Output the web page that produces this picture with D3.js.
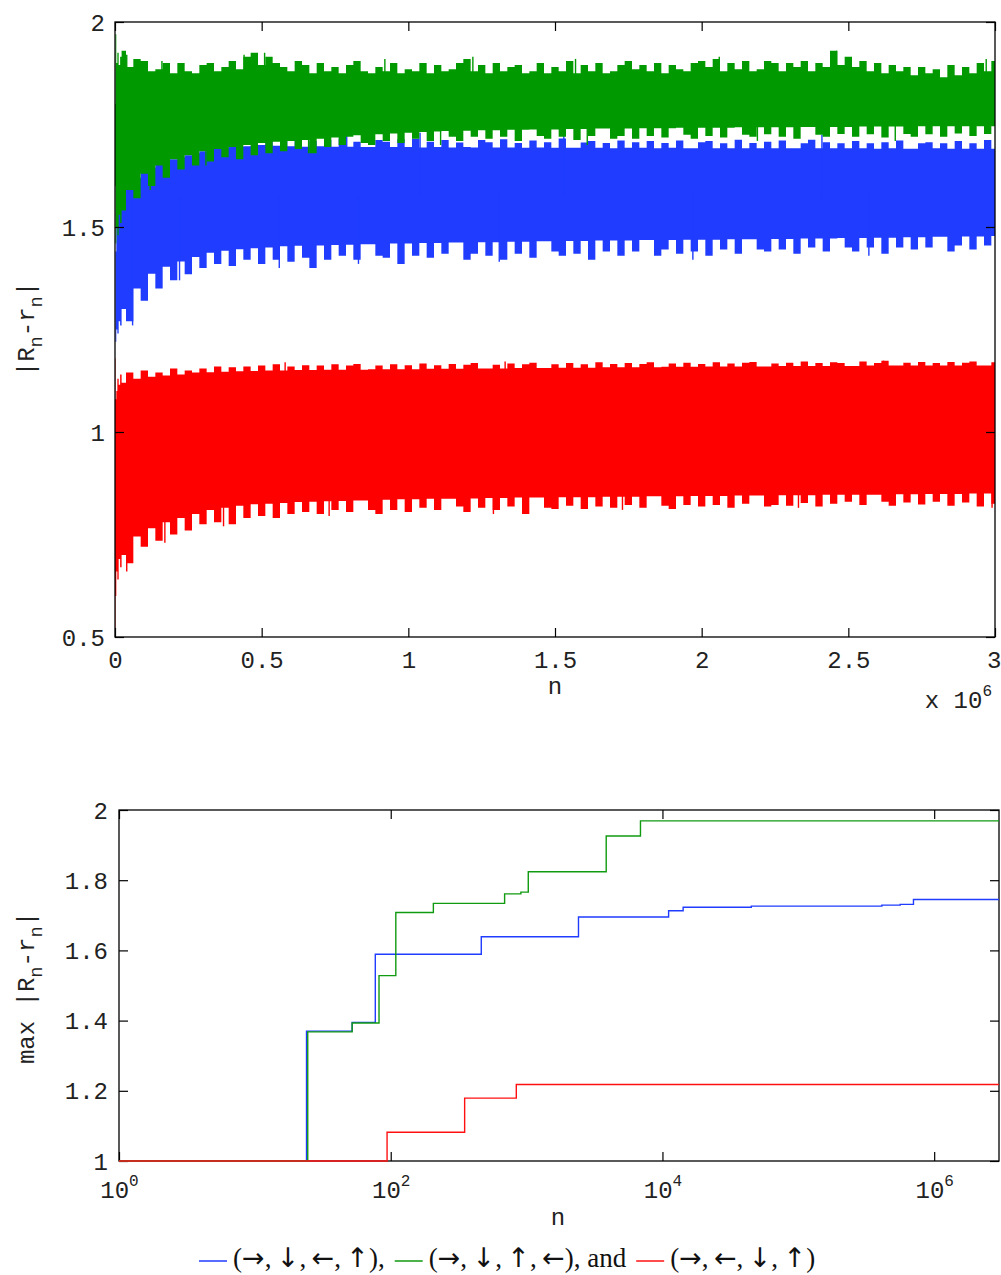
<!DOCTYPE html>
<html><head><meta charset="utf-8">
<script src="https://cdn.jsdelivr.net/npm/d3@7"></script>
<style>body{margin:0;background:#fff} svg{display:block}</style>
</head><body><svg id="c" width="1001" height="1275"></svg>
<script>
// ---------------- DATA (top chart: |R_n - r_n| vs n, n in units of 10^6) ----------------
// sample positions: a few early points, then every 0.025 x 10^6
const topX = [0,0.003,0.006,0.01,0.015,0.02].concat(d3.range(1,121).map(i=>i*0.025));
// upper / lower edges of each band (edge fuzz included)
const greenHi = [1.80,1.97,1.90,1.925,1.895,1.915,
 1.93,1.89,1.91,1.905,1.88,1.885,1.90,1.875,1.90,1.88,
 1.875,1.895,1.90,1.88,1.89,1.905,1.885,1.915,1.925,1.895,
 1.915,1.90,1.89,1.88,1.905,1.895,1.875,1.90,1.88,1.89,
 1.875,1.895,1.905,1.88,1.875,1.89,1.88,1.90,1.875,1.885,
 1.88,1.90,1.875,1.895,1.88,1.885,1.90,1.91,1.88,1.895,
 1.875,1.90,1.88,1.89,1.895,1.875,1.88,1.90,1.875,1.89,
 1.88,1.905,1.875,1.895,1.88,1.90,1.875,1.88,1.895,1.905,
 1.885,1.895,1.88,1.90,1.875,1.895,1.885,1.88,1.90,1.905,
 1.89,1.91,1.88,1.90,1.885,1.905,1.88,1.885,1.905,1.90,
 1.88,1.90,1.89,1.905,1.88,1.90,1.89,1.93,1.895,1.915,
 1.89,1.905,1.88,1.90,1.875,1.895,1.88,1.89,1.87,1.89,
 1.875,1.885,1.865,1.895,1.87,1.89,1.875,1.90,1.88,1.905];
const greenLo = [1.60,1.46,1.50,1.48,1.53,1.51,
 1.54,1.59,1.57,1.63,1.60,1.65,1.62,1.665,1.64,1.675,
 1.65,1.685,1.66,1.69,1.67,1.695,1.665,1.70,1.675,1.705,
 1.68,1.708,1.685,1.71,1.69,1.712,1.68,1.715,1.695,1.718,
 1.70,1.72,1.724,1.705,1.70,1.726,1.71,1.728,1.705,1.73,
 1.715,1.732,1.71,1.733,1.734,1.72,1.71,1.735,1.72,1.736,
 1.715,1.736,1.72,1.737,1.71,1.737,1.738,1.722,1.715,1.738,
 1.72,1.739,1.712,1.739,1.722,1.74,1.74,1.715,1.722,1.74,
 1.715,1.741,1.722,1.741,1.718,1.741,1.742,1.725,1.715,1.742,
 1.722,1.742,1.718,1.742,1.743,1.725,1.72,1.743,1.726,1.743,
 1.72,1.743,1.715,1.744,1.744,1.725,1.72,1.744,1.727,1.744,
 1.72,1.745,1.726,1.745,1.718,1.745,1.745,1.727,1.72,1.746,
 1.726,1.746,1.72,1.746,1.728,1.746,1.722,1.746,1.727,1.746];
const blueHi = [1.30,1.44,1.50,1.53,1.55,1.56,
 1.575,1.60,1.62,1.635,1.645,1.652,1.66,1.665,1.67,1.675,
 1.68,1.685,1.688,1.692,1.694,1.695,1.696,1.697,1.698,1.70,
 1.71,1.698,1.712,1.697,1.715,1.696,1.71,1.697,1.712,1.696,
 1.715,1.696,1.708,1.695,1.695,1.712,1.708,1.695,1.714,1.695,
 1.715,1.694,1.708,1.695,1.712,1.694,1.706,1.695,1.694,1.712,
 1.707,1.694,1.714,1.694,1.705,1.693,1.711,1.694,1.707,1.693,
 1.716,1.693,1.693,1.706,1.71,1.693,1.705,1.692,1.711,1.693,
 1.707,1.693,1.71,1.692,1.705,1.693,1.711,1.692,1.692,1.707,
 1.71,1.692,1.704,1.692,1.713,1.692,1.705,1.692,1.708,1.692,
 1.711,1.692,1.692,1.704,1.713,1.692,1.707,1.692,1.704,1.692,
 1.71,1.692,1.704,1.691,1.707,1.692,1.711,1.691,1.691,1.704,
 1.707,1.692,1.704,1.691,1.71,1.691,1.704,1.691,1.712,1.691];
const blueLo = [1.30,1.22,1.25,1.24,1.27,1.26,
 1.30,1.27,1.35,1.32,1.386,1.35,1.403,1.37,1.416,1.385,
 1.427,1.40,1.437,1.41,1.442,1.405,1.446,1.42,1.448,1.41,
 1.45,1.42,1.453,1.415,1.454,1.425,1.40,1.455,1.42,1.456,
 1.43,1.457,1.42,1.458,1.458,1.43,1.425,1.46,1.41,1.46,
 1.43,1.461,1.425,1.461,1.435,1.462,1.462,1.42,1.435,1.463,
 1.43,1.463,1.42,1.464,1.435,1.464,1.425,1.465,1.465,1.44,
 1.43,1.466,1.435,1.466,1.42,1.467,1.44,1.467,1.43,1.467,
 1.44,1.468,1.468,1.43,1.445,1.468,1.435,1.469,1.44,1.469,
 1.43,1.469,1.445,1.47,1.435,1.47,1.47,1.445,1.44,1.471,
 1.445,1.471,1.435,1.472,1.45,1.472,1.44,1.472,1.473,1.45,
 1.44,1.473,1.45,1.474,1.435,1.474,1.45,1.475,1.445,1.475,
 1.45,1.476,1.476,1.44,1.455,1.477,1.445,1.477,1.455,1.478];
const redHi = [1.18,1.08,1.10,1.13,1.115,1.14,
 1.12,1.145,1.13,1.15,1.135,1.145,1.138,1.155,1.14,1.15,
 1.145,1.155,1.146,1.16,1.147,1.158,1.148,1.16,1.149,1.162,
 1.15,1.165,1.15,1.16,1.151,1.163,1.151,1.162,1.152,1.165,
 1.152,1.162,1.166,1.152,1.153,1.162,1.153,1.165,1.153,1.163,
 1.153,1.167,1.154,1.163,1.154,1.166,1.154,1.164,1.168,1.155,
 1.155,1.164,1.155,1.167,1.156,1.165,1.169,1.156,1.156,1.165,
 1.157,1.168,1.157,1.165,1.157,1.17,1.158,1.166,1.158,1.168,
 1.158,1.166,1.17,1.158,1.159,1.167,1.159,1.169,1.159,1.166,
 1.16,1.17,1.16,1.167,1.16,1.169,1.171,1.16,1.16,1.167,
 1.161,1.169,1.161,1.172,1.161,1.168,1.161,1.17,1.168,1.161,
 1.161,1.172,1.162,1.168,1.174,1.162,1.162,1.169,1.162,1.171,
 1.162,1.168,1.162,1.171,1.162,1.169,1.172,1.162,1.162,1.17];
const redLo = [0.50,0.60,0.66,0.64,0.69,0.67,
 0.70,0.68,0.745,0.72,0.765,0.735,0.78,0.75,0.79,0.76,
 0.80,0.775,0.81,0.78,0.815,0.775,0.82,0.79,0.824,0.795,
 0.825,0.79,0.827,0.80,0.829,0.805,0.83,0.80,0.831,0.81,
 0.832,0.805,0.833,0.833,0.81,0.80,0.835,0.81,0.836,0.805,
 0.836,0.815,0.837,0.81,0.837,0.837,0.818,0.805,0.838,0.815,
 0.839,0.81,0.839,0.818,0.84,0.80,0.84,0.84,0.815,0.812,
 0.841,0.82,0.841,0.812,0.841,0.818,0.842,0.815,0.842,0.822,
 0.842,0.815,0.843,0.843,0.82,0.812,0.843,0.822,0.844,0.818,
 0.844,0.822,0.844,0.815,0.845,0.825,0.845,0.845,0.818,0.822,
 0.846,0.82,0.846,0.827,0.846,0.818,0.847,0.825,0.847,0.83,
 0.847,0.822,0.847,0.847,0.83,0.82,0.848,0.828,0.848,0.823,
 0.849,0.83,0.849,0.82,0.849,0.828,0.85,0.818,0.85,0.825];

// a few isolated thin outliers read at the band edges: [n (x10^6), value]
const greenSpikes = [[0.04,1.92],[0.16,1.905],[0.44,1.92],[0.51,1.925],[0.92,1.91],[1.22,1.915],[1.57,1.91],[2.06,1.915],[2.46,1.93],[2.97,1.91],
  [0.12,1.59],[0.31,1.65],[0.66,1.68],[1.11,1.70],[1.61,1.70],[2.19,1.71],[2.66,1.71]];
const blueSpikes = [[0.79,1.73],[1.04,1.73],[1.53,1.73],[2.41,1.725],
  [0.06,1.26],[0.22,1.37],[0.56,1.40],[0.83,1.41],[1.31,1.415],[1.97,1.42],[2.57,1.43]];
const redSpikes = [[0.58,1.17],[1.33,1.172],[2.62,1.174],
  [0.04,0.66],[0.17,0.73],[0.37,0.77],[0.73,0.795],[1.29,0.80],[1.73,0.81],[2.33,0.815],[2.99,0.815]];

const topXTicks = [0,0.5,1,1.5,2,2.5,3];
const topXLabels = ["0","0.5","1","1.5","2","2.5","3"];
const topYTicks = [0.5,1,1.5,2];
const topYLabels = ["0.5","1","1.5","2"];

// ---------------- DATA (bottom chart: running max, step changes) ----------------
const blueN = [1,24,52,77,464,2410,11100,14200,45100,412000,562000,704000,3e6];
const blueV = [1,1.37,1.395,1.589,1.639,1.695,1.713,1.723,1.726,1.729,1.731,1.745,1.745];
const greenN = [1,24.5,52,82,109,206,689,908,1029,3855,6890,3e6];
const greenV = [1,1.368,1.393,1.528,1.708,1.734,1.761,1.766,1.824,1.926,1.969,1.969];
const redN = [1,94,350,840,3e6];
const redV = [1,1.082,1.179,1.218,1.218];

const botXTicks = [1,100,1e4,1e6];
const botXExp = ["0","2","4","6"];
const botYTicks = [1,1.2,1.4,1.6,1.8,2];
const botYLabels = ["1","1.2","1.4","1.6","1.8","2"];

const legendItems = ["(\u2192,\u2193,\u2190,\u2191),", "(\u2192,\u2193,\u2191,\u2190), and", "(\u2192,\u2190,\u2193,\u2191)"];

// ---------------- DRAW ----------------
const C = {blue:"#1f3cff", green:"#009a00", red:"#ff0000"};
const CL = {blue:"#1f3cff", green:"#109a10", red:"#ff1010"};
const mono = "'Liberation Mono','DejaVu Sans Mono',monospace";
const svg = d3.select("#c");
const defs = svg.append("defs");

// ----- top chart -----
const T = {l:115, r:995, t:22, b:637};
const xT = d3.scaleLinear().domain([0,3]).range([T.l,T.r]);
const yT = d3.scaleLinear().domain([0.5,2]).range([T.b,T.t]);
defs.append("clipPath").attr("id","clipT").append("rect")
  .attr("x",T.l).attr("y",T.t).attr("width",T.r-T.l).attr("height",T.b-T.t);
const gT = svg.append("g").attr("clip-path","url(#clipT)");

function band(hi, lo, spikes, color){
  const rows = topX.map((x,i)=>({x, hi:hi[i], lo:lo[i]}));
  const area = d3.area().x(d=>xT(d.x)).y0(d=>yT(d.lo)).y1(d=>yT(d.hi)).curve(d3.curveStep);
  gT.append("path").datum(rows).attr("d",area).attr("fill",color);
  const mid = d3.mean(hi.slice(20).concat(lo.slice(20)));
  gT.selectAll(null).data(spikes).enter().append("line")
    .attr("x1",d=>xT(d[0])).attr("x2",d=>xT(d[0]))
    .attr("y1",d=>yT(d[1])).attr("y2",yT(mid))
    .attr("stroke",color).attr("stroke-width",1.4);
}
band(blueHi, blueLo, blueSpikes, C.blue);
band(greenHi, greenLo, greenSpikes, C.green);
band(redHi, redLo, redSpikes, C.red);

function styleAxis(g){
  g.select(".domain").remove();
  g.selectAll(".tick line").attr("stroke","#000").attr("stroke-width",1.2);
  g.selectAll("text").attr("font-family",mono).attr("font-size",24).attr("fill","#222");
}
const axTB = svg.append("g").attr("transform",`translate(0,${T.b})`)
  .call(d3.axisBottom(xT).tickValues(topXTicks).tickSize(-9).tickFormat((d,i)=>topXLabels[i]));
styleAxis(axTB);
axTB.selectAll("text").attr("y",31).attr("dy",0);
axTB.selectAll("text").filter(d=>d===3).attr("text-anchor","end").attr("x",6);
svg.append("g").attr("transform",`translate(0,${T.t})`)
  .call(d3.axisTop(xT).tickValues(topXTicks).tickSize(-9).tickFormat("")).call(styleAxis);
const axTL = svg.append("g").attr("transform",`translate(${T.l},0)`)
  .call(d3.axisLeft(yT).tickValues(topYTicks).tickSize(-9).tickFormat((d,i)=>topYLabels[i]));
styleAxis(axTL);
axTL.selectAll("text").attr("x",-10).attr("dy","0.34em");
svg.append("g").attr("transform",`translate(${T.r},0)`)
  .call(d3.axisRight(yT).tickValues(topYTicks).tickSize(-9).tickFormat("")).call(styleAxis);
svg.append("rect").attr("x",T.l).attr("y",T.t).attr("width",T.r-T.l).attr("height",T.b-T.t)
  .attr("fill","none").attr("stroke","#000").attr("stroke-width",1.3);

svg.append("text").attr("x",555).attr("y",694).attr("text-anchor","middle")
  .attr("font-family",mono).attr("font-size",24).attr("fill","#222").text("n");
const x10 = svg.append("text").attr("x",992).attr("y",708).attr("text-anchor","end")
  .attr("font-family",mono).attr("font-size",24).attr("fill","#222");
x10.append("tspan").text("x 10");
x10.append("tspan").attr("dy",-12).attr("font-size",16).text("6");

function yLabel(x, y, prefix, size){
  const t = svg.append("text").attr("transform",`translate(${x},${y}) rotate(-90)`)
    .attr("text-anchor","middle").attr("font-family",mono).attr("font-size",size).attr("fill","#222");
  t.append("tspan").text(prefix + "|R");
  t.append("tspan").attr("dy",8).attr("font-size",size*0.78).text("n");
  t.append("tspan").attr("dy",-8).text("-r");
  t.append("tspan").attr("dy",8).attr("font-size",size*0.78).text("n");
  t.append("tspan").attr("dy",-8).text("|");
}
yLabel(34, 329, "", 24);

// ----- bottom chart -----
const B = {l:119, r:999, t:810, b:1161};
const xB = d3.scaleLog().domain([1,3e6]).range([B.l,B.r]);
const yB = d3.scaleLinear().domain([1,2]).range([B.b,B.t]);

const axBB = svg.append("g").attr("transform",`translate(0,${B.b})`)
  .call(d3.axisBottom(xB).tickValues(botXTicks).tickSize(-9).tickFormat(""));
styleAxis(axBB);
axBB.selectAll(".tick").append("text").attr("y",37).attr("text-anchor","middle")
  .attr("font-family",mono).attr("font-size",24).attr("fill","#222")
  .each(function(d,i){
    const t = d3.select(this);
    t.append("tspan").text("10");
    t.append("tspan").attr("dy",-12).attr("font-size",16).text(botXExp[i]);
  });
svg.append("g").attr("transform",`translate(0,${B.t})`)
  .call(d3.axisTop(xB).tickValues(botXTicks).tickSize(-9).tickFormat("")).call(styleAxis);
const axBL = svg.append("g").attr("transform",`translate(${B.l},0)`)
  .call(d3.axisLeft(yB).tickValues(botYTicks).tickSize(-9).tickFormat((d,i)=>botYLabels[i]));
styleAxis(axBL);
axBL.selectAll("text").attr("x",-11).attr("dy","0.34em");
svg.append("g").attr("transform",`translate(${B.r},0)`)
  .call(d3.axisRight(yB).tickValues(botYTicks).tickSize(-9).tickFormat("")).call(styleAxis);
svg.append("rect").attr("x",B.l).attr("y",B.t).attr("width",B.r-B.l).attr("height",B.b-B.t)
  .attr("fill","none").attr("stroke","#000").attr("stroke-width",1.3);

const stepLine = d3.line().x(d=>xB(d[0])).y(d=>yB(d[1])).curve(d3.curveStepAfter);
[[blueN,blueV,CL.blue],[greenN,greenV,CL.green],[redN,redV,CL.red]].forEach(([N,V,c])=>{
  svg.append("path").datum(N.map((n,i)=>[n,V[i]])).attr("d",stepLine)
    .attr("fill","none").attr("stroke",c).attr("stroke-width",1.4);
});

svg.append("text").attr("x",558).attr("y",1225).attr("text-anchor","middle")
  .attr("font-family",mono).attr("font-size",24).attr("fill","#222").text("n");
yLabel(34, 988, "max ", 24);

// ----- legend -----
const serif = "'Liberation Serif','DejaVu Serif',serif";
const arrowFont = "'DejaVu Sans','Noto Sans',sans-serif";
const legColors = [CL.blue, CL.green, CL.red];
let lx = 199;
const ly = 1267;
legendItems.forEach((s,i)=>{
  svg.append("line").attr("x1",lx).attr("x2",lx+28).attr("y1",ly-6).attr("y2",ly-6)
    .attr("stroke",legColors[i]).attr("stroke-width",1.5);
  lx += 34;
  const t = svg.append("text").attr("x",lx).attr("y",ly).attr("font-family",serif)
    .attr("font-size",27).attr("fill","#111");
  Array.from(s).forEach((ch,k,arr)=>{
    const isArrow = /[\u2190-\u2193]/.test(ch);
    const sp = t.append("tspan").text(ch);
    if(isArrow) sp.attr("font-family",arrowFont);
    if(ch===',' && k<arr.length-1 && /[\u2190-\u2193]/.test(arr[k+1])) sp.text(",\u2009");
  });
  lx += t.node().getComputedTextLength() + 10;
});
</script></body></html>
